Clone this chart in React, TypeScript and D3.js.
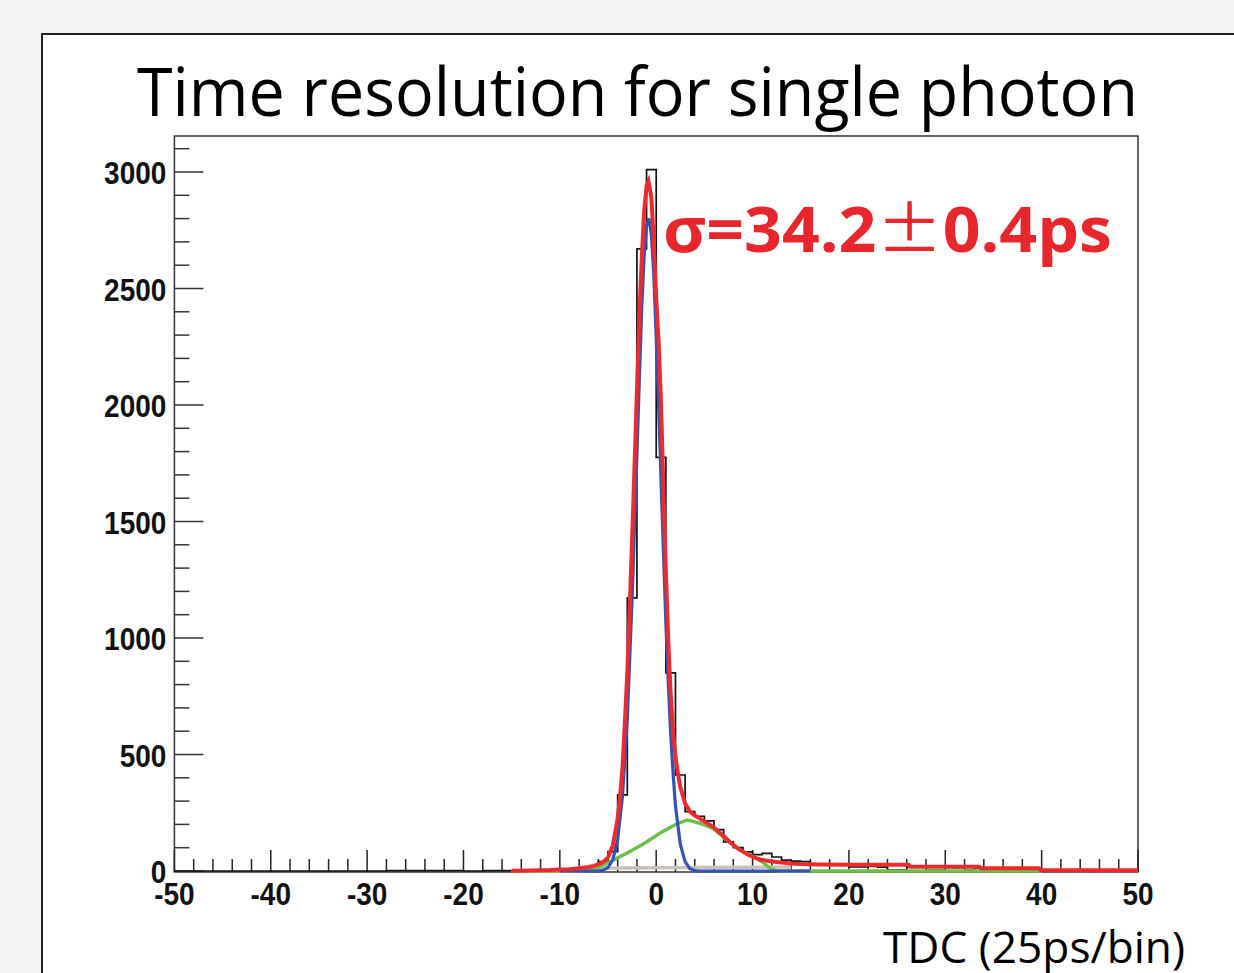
import React from "react";
import * as d3 from "d3";

// ---------- data ----------
const binStart = -50;
const counts: number[] = [
  // -50 .. -29
  0, 0, 0, 0, 0, 0, 0, 0, 0, 0, 0, 0, 0, 0, 0, 0, 0, 0, 0, 0, 0, 0,
  // -28 .. -21
  2, 2, 2, 2, 2, 2, 2, 2,
  // -20, -19
  0, 0,
  // -18 .. -16
  2, 2, 2,
  // -15 .. -1
  2, 3, 3, 4, 5, 7, 9, 14, 17, 40, 83, 327, 1172, 2670, 3010,
  // 0 .. 14
  1775, 850, 412, 255, 235, 215, 178, 125, 100, 82, 70, 76, 60, 47, 42,
  // 15 .. 29
  40, 30, 28, 28, 26, 18, 18, 20, 17, 5, 5, 18, 16, 4, 4,
  // 30 .. 49
  15, 14, 4, 12, 10, 11, 9, 10, 8, 9, 4, 3, 4, 3, 4, 3, 3, 4, 3, 3,
];

const totalFit: [number, number][] = [
  [-15, 1], [-13, 2], [-11, 4], [-10, 6], [-9, 8], [-8, 12], [-7, 17], [-6.5, 22], [-6, 28],
  [-5.5, 38], [-5, 58], [-4.5, 110], [-4, 225], [-3.75, 320], [-3.5, 440], [-3.25, 640],
  [-3, 850], [-2.75, 1130], [-2.5, 1420], [-2.25, 1740], [-2, 2060], [-1.75, 2380],
  [-1.5, 2630], [-1.25, 2830], [-1, 2940], [-0.8, 2960], [-0.5, 2890], [-0.25, 2700],
  [0, 2460], [0.25, 2270], [0.5, 2010], [0.75, 1630], [1, 1290], [1.25, 990], [1.5, 760],
  [1.75, 600], [2, 490], [2.25, 420], [2.5, 360], [3, 290], [3.5, 255], [4, 238], [4.5, 226],
  [5, 213], [5.5, 200], [6, 186], [6.5, 168], [7, 150], [7.5, 130], [8, 112], [8.5, 96],
  [9, 83], [9.5, 71], [10, 61], [10.5, 53], [11, 47], [12, 41], [13, 36], [14, 32], [15, 30],
  [17, 28], [20, 27], [26.2, 27], [26.4, 18], [33.5, 18], [33.7, 12], [39.7, 12], [39.9, 4],
  [50, 3],
];

const signalFit: [number, number][] = [
  [-10, 0], [-6, 0], [-5.5, 4], [-5, 15], [-4.5, 49], [-4, 135], [-3.5, 320], [-3, 650],
  [-2.5, 1170], [-2, 1790], [-1.5, 2420], [-1.25, 2640], [-1, 2770], [-0.75, 2800],
  [-0.5, 2730], [-0.25, 2560], [0, 2290], [0.25, 2000], [0.5, 1680], [0.75, 1370], [1, 1070],
  [1.25, 810], [1.5, 590], [1.75, 420], [2, 280], [2.5, 115], [3, 40], [3.5, 10], [4, 2],
  [4.5, 0], [16, 0],
];

const tailFit: [number, number][] = [
  [-15, 0], [-8, 0], [-7, 3], [-6.15, 12], [-4.8, 40], [-3.06, 76], [-1.34, 116], [0.37, 162],
  [2.1, 202], [3.24, 219], [4.52, 205], [5.9, 183], [7.3, 133], [8.7, 90], [10.1, 61],
  [11.1, 36], [11.9, 10], [12.5, 1], [13, 0], [40, 0],
];

const bgFit: [number, number][] = [
  [-15, 0], [-9, 0], [-8, 12], [0, 14], [8, 16], [14, 17],
];

const xTickLabels = [-50, -40, -30, -20, -10, 0, 10, 20, 30, 40, 50];
const yTickLabels = [0, 500, 1000, 1500, 2000, 2500, 3000];

const titleText = "Time resolution for single photon";
const xAxisTitle = "TDC (25ps/bin)";
const resultPre = "σ=34.2";
const resultPm = "±";
const resultPost = "0.4ps";

// ---------- layout ----------
const W = 1234;
const H = 973;
const plot = { left: 174.4, right: 1138, top: 136, bottom: 872 };

export default function App() {
  const x = d3.scaleLinear().domain([-50, 50]).range([plot.left, plot.right]);
  const y = d3.scaleLinear().domain([0, 3000]).range([871, 172]);

  const histPts: [number, number][] = counts.map((c, i) => [binStart + i, c]);
  histPts.push([binStart + counts.length, counts[counts.length - 1]]);
  const histLine = d3
    .line<[number, number]>()
    .x((d) => x(d[0]))
    .y((d) => y(d[1]))
    .curve(d3.curveStepAfter);

  const fitLine = d3
    .line<[number, number]>()
    .x((d) => x(d[0]))
    .y((d) => y(d[1]))
    .curve(d3.curveLinear);

  const yMinor = d3.range(0, 3101, 100).filter((v) => v % 500 !== 0);
  const xMinor = d3.range(-50, 51, 2).filter((v) => v % 10 !== 0);

  const tickFont = "'Liberation Sans', Arial, sans-serif";
  const textFont = "'Open Sans', 'Noto Sans', sans-serif";

  return (
    <svg
      width={W}
      height={H}
      style={{ position: "absolute", left: 0, top: 0 }}
      xmlns="http://www.w3.org/2000/svg"
    >
      <rect x={0} y={0} width={W} height={H} fill="#f2f3f3" />
      <rect x={42} y={34} width={W + 20} height={H + 20} fill="#ffffff" stroke="#222" strokeWidth={2} />

      <text
        x={137}
        y={116}
        fontFamily={textFont}
        fontSize={68}
        fill="#000"
        textLength={1001}
        lengthAdjust="spacingAndGlyphs"
      >
        {titleText}
      </text>

      {/* plot frame */}
      <rect
        x={plot.left}
        y={plot.top}
        width={plot.right - plot.left}
        height={plot.bottom - plot.top}
        fill="#fff"
        stroke="#333"
        strokeWidth={1.5}
      />

      {/* y ticks */}
      {yTickLabels.map((v) => (
        <line key={"ym" + v} x1={plot.left} x2={plot.left + 29} y1={y(v)} y2={y(v)} stroke="#333" strokeWidth={1.5} />
      ))}
      {yMinor.map((v) => (
        <line key={"yn" + v} x1={plot.left} x2={plot.left + 15} y1={y(v)} y2={y(v)} stroke="#333" strokeWidth={1.5} />
      ))}
      {/* x ticks */}
      {xTickLabels.map((v) => (
        <line key={"xm" + v} x1={x(v)} x2={x(v)} y1={plot.bottom} y2={plot.bottom - 22} stroke="#222" strokeWidth={1.5} />
      ))}
      {xMinor.map((v) => (
        <line key={"xn" + v} x1={x(v)} x2={x(v)} y1={plot.bottom} y2={plot.bottom - 13} stroke="#222" strokeWidth={1.5} />
      ))}

      {/* histogram */}
      <path d={histLine(histPts) || ""} fill="none" stroke="#111" strokeWidth={1.7} />

      {/* fit components */}
      <path d={fitLine(bgFit) || ""} fill="none" stroke="#c8c1ba" strokeWidth={3.5} />
      <path d={fitLine(tailFit) || ""} fill="none" stroke="#6cc04a" strokeWidth={3.4} />
      <path d={fitLine(signalFit) || ""} fill="none" stroke="#3553b5" strokeWidth={3.2} />
      <path d={fitLine(totalFit) || ""} fill="none" stroke="#ee2a2e" strokeWidth={4} />

      {/* y labels */}
      {yTickLabels.map((v) => (
        <text
          key={"yl" + v}
          transform={`translate(${plot.left - 8},${y(v) + 12}) scale(1,1.12)`}
          textAnchor="end"
          fontFamily={tickFont}
          fontWeight="bold"
          fontSize={28}
          fill="#111"
        >
          {v}
        </text>
      ))}
      {/* x labels */}
      {xTickLabels.map((v) => (
        <text
          key={"xl" + v}
          transform={`translate(${x(v)},${905}) scale(1,1.12)`}
          textAnchor="middle"
          fontFamily={tickFont}
          fontWeight="bold"
          fontSize={28}
          fill="#111"
        >
          {v}
        </text>
      ))}

      <text
        x={883}
        y={963}
        fontFamily={textFont}
        fontSize={44}
        fill="#000"
        textLength={302}
        lengthAdjust="spacingAndGlyphs"
      >
        {xAxisTitle}
      </text>

      <text
        x={663}
        y={252}
        fontFamily={textFont}
        fontWeight="bold"
        fontSize={62}
        fill="#e8262b"
        textLength={449}
        lengthAdjust="spacingAndGlyphs"
      >
        {resultPre}
        <tspan fontFamily="'Noto Sans CJK SC', sans-serif" fontWeight="normal">
          {resultPm}
        </tspan>
        {resultPost}
      </text>
    </svg>
  );
}
